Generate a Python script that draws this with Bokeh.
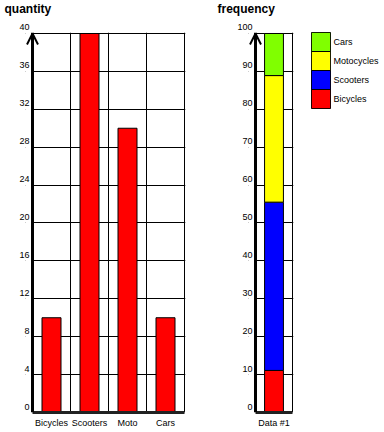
from bokeh.plotting import figure
from bokeh.models import (Range1d, FactorRange, FixedTicker, PolyAnnotation,
                          BoxAnnotation, Span, ColumnDataSource)
from bokeh.layouts import row
from bokeh.embed import file_html
from bokeh.resources import INLINE

# ---- data ----
categories = ["Bicycles", "Scooters", "Moto", "Cars"]
quantity = [10, 40, 30, 10]
quantity_ticks = [0, 4, 8, 12, 16, 20, 24, 28, 32, 36, 40]

freq_group = ["Data #1"]
freq_series = ["Bicycles", "Scooters", "Motocycles", "Cars"]
freq_values = [11.1, 44.4, 33.4, 11.1]
freq_colors = ["#ff0000", "#0000ff", "#ffff00", "#80ff00"]
freq_ticks = [0, 10, 20, 30, 40, 50, 60, 70, 80, 90, 100]

FONT = "Liberation Sans"
# pixel sizes of one category slot / whole value axis
P1_SLOT_PX = 38
P2_SLOT_PX = 37
VALUE_AXIS_PX = 380
PAD_LEFT_PX = 7     # room inside the plot area for the axis arrow head
PAD_EDGE_PX = 1     # keeps the right/top border lines inside the plot area


def style_common(p):
    p.frame_align = False
    p.background_fill_color = "white"
    p.border_fill_color = "white"
    for ax in p.axis:
        ax.major_tick_out = 0
        ax.major_tick_in = 0
        ax.minor_tick_out = 0
        ax.minor_tick_in = 0
        ax.major_label_text_font = FONT
        ax.major_label_text_font_size = "9px"
        ax.major_label_text_color = "black"
    for g in p.grid:
        g.grid_line_color = "black"
        g.grid_line_alpha = 1
        g.grid_line_width = 1
    p.title.text_font = FONT
    p.title.text_font_size = "12px"
    p.title.text_font_style = "bold"
    p.title.text_color = "black"
    p.title.vertical_align = "top"
    p.title.standoff = 2


def raised_labels(ticks):
    # tick labels sit just above their grid line, as in the original
    return {t: f"{t}\n" for t in ticks}


def top_title(text):
    # an empty second line keeps the title at the top edge of the border
    return f"{text}\n"


def value_chart(p, n_slots, slot_px, ticks, labels, centers):
    """Common axis/grid set-up of the two bar charts."""
    style_common(p)
    p.outline_line_color = None
    p.xaxis.ticker = FixedTicker(ticks=centers)
    p.xaxis.major_label_overrides = dict(zip(centers, labels))
    p.xaxis.bounds = (0, n_slots)
    p.xaxis.axis_line_width = 3
    p.xaxis.axis_line_color = "#222222"
    p.xaxis.major_label_standoff = 5
    p.xgrid.ticker = FixedTicker(ticks=list(range(1, n_slots + 1)))
    p.yaxis.ticker = FixedTicker(ticks=ticks)
    p.yaxis.major_label_overrides = raised_labels(ticks)
    p.yaxis.axis_line_color = None
    p.yaxis.major_label_standoff = 3 - PAD_LEFT_PX
    # hide the grid lines in the small strip left of the value axis
    p.add_layout(BoxAnnotation(right=0, fill_color="white", fill_alpha=1,
                               line_color=None, level="underlay"))
    # the thick value-axis line at the start of the first slot
    p.add_layout(Span(location=0, dimension="height", line_color="black",
                      line_width=3))
    # open arrow head on top of the value axis
    y_px = VALUE_AXIS_PX / (ticks[-1] - ticks[0])
    dx = 5.5 / slot_px
    dy = 11 / y_px
    for side in (-1, 1):
        p.add_layout(PolyAnnotation(xs=[0, side * dx], ys=[ticks[-1], ticks[-1] - dy],
                                    fill_color=None, fill_alpha=0,
                                    line_color="black", line_alpha=1,
                                    line_width=2))


def x_range_for(n_slots, slot_px):
    return Range1d(-PAD_LEFT_PX / slot_px, n_slots + PAD_EDGE_PX / slot_px)


def y_range_for(ticks):
    span = ticks[-1] - ticks[0]
    return Range1d(ticks[0], ticks[-1] + PAD_EDGE_PX * span / VALUE_AXIS_PX)


# ---- quantity chart ----
q_centers = [i + 0.5 for i in range(len(categories))]
p1 = figure(width=200, height=432,
            x_range=x_range_for(len(categories), P1_SLOT_PX),
            y_range=y_range_for(quantity_ticks),
            output_backend="svg", toolbar_location=None,
            title=top_title("quantity"),
            min_border_left=25, min_border_right=15, min_border_top=31,
            min_border_bottom=20)
p1.vbar(x=q_centers, top=quantity, width=0.5, fill_color="#ff0000",
        line_color="black", line_width=1)
value_chart(p1, len(categories), P1_SLOT_PX, quantity_ticks, categories, q_centers)
p1.title.offset = -21

# ---- frequency chart ----
f_centers = [i + 0.5 for i in range(len(freq_group))]
src = {"x": f_centers}
for name, v in zip(freq_series, freq_values):
    src[name] = [v]
p2 = figure(width=111, height=432,
            x_range=x_range_for(len(freq_group), P2_SLOT_PX),
            y_range=y_range_for(freq_ticks),
            output_backend="svg", toolbar_location=None,
            title=top_title("frequency"),
            min_border_left=48, min_border_right=18, min_border_top=31,
            min_border_bottom=20)
p2.vbar_stack(freq_series, x="x", width=0.51, color=freq_colors,
              line_color="black", line_width=1, source=ColumnDataSource(src))
value_chart(p2, len(freq_group), P2_SLOT_PX, freq_ticks, freq_group, f_centers)
p2.title.offset = -31

# ---- legend (as a small swatch chart) ----
p3 = figure(width=73, height=432, x_range=Range1d(0, 1),
            y_range=FactorRange(*freq_series), x_axis_location=None,
            y_axis_location="right", output_backend="svg", toolbar_location=None,
            min_border_left=0, min_border_right=54, min_border_top=32,
            min_border_bottom=324)
p3.rect(x=0.5, y=freq_series, width=1, height=1, fill_color=freq_colors,
        line_color="black", line_width=1)
style_common(p3)
p3.outline_line_color = "black"
p3.grid.visible = False
p3.yaxis.axis_line_color = None
p3.yaxis.major_label_standoff = 3

layout = row(p1, p2, p3)
open("out.html", "w").write(file_html(layout, INLINE))
